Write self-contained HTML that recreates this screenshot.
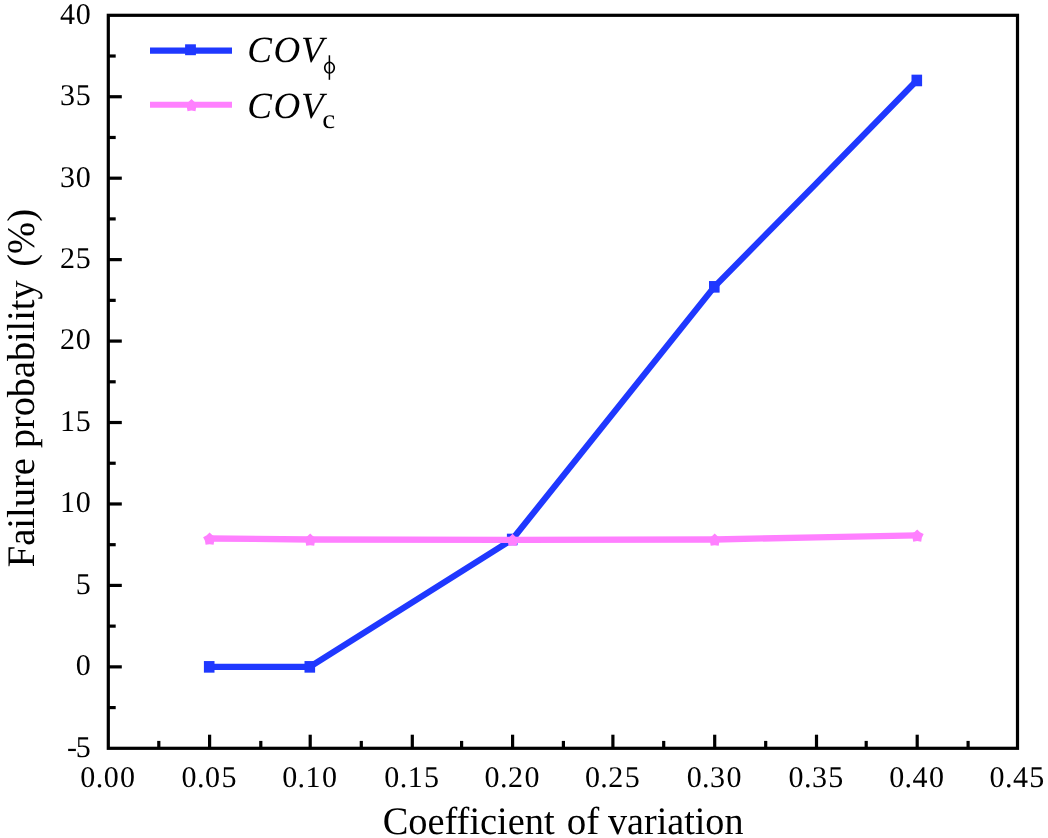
<!DOCTYPE html>
<html><head><meta charset="utf-8"><style>
html,body{margin:0;padding:0;background:#fff;width:1048px;height:838px;overflow:hidden;}
svg{display:block;font-family:"Liberation Serif",serif;will-change:transform;text-rendering:geometricPrecision;}
</style></head><body>
<svg width="1048" height="838" viewBox="0 0 1048 838" fill="#000">
<rect x="108.3" y="15.3" width="909.20" height="733.00" fill="none" stroke="#000" stroke-width="3.2"/>
<line x1="108.3" y1="707.58" x2="115.70" y2="707.58" stroke="#000" stroke-width="3.2"/>
<line x1="108.3" y1="666.86" x2="121.80" y2="666.86" stroke="#000" stroke-width="3.2"/>
<line x1="108.3" y1="626.13" x2="115.70" y2="626.13" stroke="#000" stroke-width="3.2"/>
<line x1="108.3" y1="585.41" x2="121.80" y2="585.41" stroke="#000" stroke-width="3.2"/>
<line x1="108.3" y1="544.69" x2="115.70" y2="544.69" stroke="#000" stroke-width="3.2"/>
<line x1="108.3" y1="503.97" x2="121.80" y2="503.97" stroke="#000" stroke-width="3.2"/>
<line x1="108.3" y1="463.24" x2="115.70" y2="463.24" stroke="#000" stroke-width="3.2"/>
<line x1="108.3" y1="422.52" x2="121.80" y2="422.52" stroke="#000" stroke-width="3.2"/>
<line x1="108.3" y1="381.80" x2="115.70" y2="381.80" stroke="#000" stroke-width="3.2"/>
<line x1="108.3" y1="341.08" x2="121.80" y2="341.08" stroke="#000" stroke-width="3.2"/>
<line x1="108.3" y1="300.36" x2="115.70" y2="300.36" stroke="#000" stroke-width="3.2"/>
<line x1="108.3" y1="259.63" x2="121.80" y2="259.63" stroke="#000" stroke-width="3.2"/>
<line x1="108.3" y1="218.91" x2="115.70" y2="218.91" stroke="#000" stroke-width="3.2"/>
<line x1="108.3" y1="178.19" x2="121.80" y2="178.19" stroke="#000" stroke-width="3.2"/>
<line x1="108.3" y1="137.47" x2="115.70" y2="137.47" stroke="#000" stroke-width="3.2"/>
<line x1="108.3" y1="96.74" x2="121.80" y2="96.74" stroke="#000" stroke-width="3.2"/>
<line x1="108.3" y1="56.02" x2="115.70" y2="56.02" stroke="#000" stroke-width="3.2"/>
<line x1="158.80" y1="748.3" x2="158.80" y2="740.90" stroke="#000" stroke-width="3.2"/>
<line x1="209.60" y1="748.3" x2="209.60" y2="734.70" stroke="#000" stroke-width="3.2"/>
<line x1="260.80" y1="748.3" x2="260.80" y2="740.90" stroke="#000" stroke-width="3.2"/>
<line x1="310.20" y1="748.3" x2="310.20" y2="734.70" stroke="#000" stroke-width="3.2"/>
<line x1="361.30" y1="748.3" x2="361.30" y2="740.90" stroke="#000" stroke-width="3.2"/>
<line x1="412.30" y1="748.3" x2="412.30" y2="734.70" stroke="#000" stroke-width="3.2"/>
<line x1="461.60" y1="748.3" x2="461.60" y2="740.90" stroke="#000" stroke-width="3.2"/>
<line x1="512.60" y1="748.3" x2="512.60" y2="734.70" stroke="#000" stroke-width="3.2"/>
<line x1="563.40" y1="748.3" x2="563.40" y2="740.90" stroke="#000" stroke-width="3.2"/>
<line x1="612.90" y1="748.3" x2="612.90" y2="734.70" stroke="#000" stroke-width="3.2"/>
<line x1="663.70" y1="748.3" x2="663.70" y2="740.90" stroke="#000" stroke-width="3.2"/>
<line x1="714.70" y1="748.3" x2="714.70" y2="734.70" stroke="#000" stroke-width="3.2"/>
<line x1="765.70" y1="748.3" x2="765.70" y2="740.90" stroke="#000" stroke-width="3.2"/>
<line x1="816.50" y1="748.3" x2="816.50" y2="734.70" stroke="#000" stroke-width="3.2"/>
<line x1="866.20" y1="748.3" x2="866.20" y2="740.90" stroke="#000" stroke-width="3.2"/>
<line x1="917.20" y1="748.3" x2="917.20" y2="734.70" stroke="#000" stroke-width="3.2"/>
<line x1="968.10" y1="748.3" x2="968.10" y2="740.90" stroke="#000" stroke-width="3.2"/>
<text x="67.00 75.80" y="756.70" font-size="30">-5</text>
<text x="75.80" y="675.26" font-size="30">0</text>
<text x="75.80" y="593.81" font-size="30">5</text>
<text x="59.90 75.80" y="512.37" font-size="30">10</text>
<text x="59.90 75.80" y="430.92" font-size="30">15</text>
<text x="59.90 75.80" y="349.48" font-size="30">20</text>
<text x="59.90 75.80" y="268.03" font-size="30">25</text>
<text x="59.90 75.80" y="186.59" font-size="30">30</text>
<text x="59.90 75.80" y="105.14" font-size="30">35</text>
<text x="59.90 75.80" y="23.70" font-size="30">40</text>
<text x="80.30 95.70 103.70 120.10" y="786.7" font-size="30">0.00</text>
<text x="181.60 197.00 205.00 221.40" y="786.7" font-size="30">0.05</text>
<text x="282.20 297.60 305.60 322.00" y="786.7" font-size="30">0.10</text>
<text x="384.30 399.70 407.70 424.10" y="786.7" font-size="30">0.15</text>
<text x="484.60 500.00 508.00 524.40" y="786.7" font-size="30">0.20</text>
<text x="584.90 600.30 608.30 624.70" y="786.7" font-size="30">0.25</text>
<text x="686.70 702.10 710.10 726.50" y="786.7" font-size="30">0.30</text>
<text x="788.50 803.90 811.90 828.30" y="786.7" font-size="30">0.35</text>
<text x="889.20 904.60 912.60 929.00" y="786.7" font-size="30">0.40</text>
<text x="989.50 1004.90 1012.90 1029.30" y="786.7" font-size="30">0.45</text>
<text x="382.63" y="833.6" font-size="39" textLength="172.09" lengthAdjust="spacingAndGlyphs">Coefficient</text>
<text x="566.8" y="833.6" font-size="39">of</text>
<text x="608.0" y="833.6" font-size="39" textLength="135.48" lengthAdjust="spacingAndGlyphs">variation</text>
<text transform="translate(33.7,567.31) rotate(-90)" font-size="39" textLength="109.25" lengthAdjust="spacingAndGlyphs">Failure</text>
<text transform="translate(33.7,448.0) rotate(-90)" font-size="39" textLength="167.46" lengthAdjust="spacingAndGlyphs">probability</text>
<text transform="translate(33.7,266.7) rotate(-90)" font-size="39" textLength="57.68" lengthAdjust="spacingAndGlyphs">(%)</text>
<polyline points="209.20,666.86 309.80,666.86 512.20,539.48 714.30,286.84 816.10,183.56 916.80,80.46" fill="none" stroke="#1f38ff" stroke-width="6.2" stroke-linejoin="round"/>
<rect x="203.90" y="661.06" width="10.6" height="11.6" fill="#1f38ff"/>
<rect x="304.50" y="661.06" width="10.6" height="11.6" fill="#1f38ff"/>
<rect x="506.90" y="533.68" width="10.6" height="11.6" fill="#1f38ff"/>
<rect x="709.00" y="281.04" width="10.6" height="11.6" fill="#1f38ff"/>
<rect x="911.50" y="74.66" width="10.6" height="11.6" fill="#1f38ff"/>
<polyline points="209.60,538.50 310.20,539.48 512.60,539.80 714.70,539.48 816.50,537.36 917.20,535.40" fill="none" stroke="#ff80ff" stroke-width="6.3" stroke-linejoin="round"/>
<path d="M209.60,532.50 L212.48,535.33 L216.07,537.20 L214.26,540.81 L213.60,544.80 L209.60,544.20 L205.60,544.80 L204.94,540.81 L203.13,537.20 L206.72,535.33 Z" fill="#ff80ff"/>
<path d="M310.20,533.48 L313.08,536.31 L316.67,538.18 L314.86,541.79 L314.20,545.78 L310.20,545.18 L306.20,545.78 L305.54,541.79 L303.73,538.18 L307.32,536.31 Z" fill="#ff80ff"/>
<path d="M512.60,533.80 L515.48,536.64 L519.07,538.50 L517.26,542.12 L516.60,546.10 L512.60,545.50 L508.60,546.10 L507.94,542.12 L506.13,538.50 L509.72,536.64 Z" fill="#ff80ff"/>
<path d="M714.70,533.48 L717.58,536.31 L721.17,538.18 L719.36,541.79 L718.70,545.78 L714.70,545.18 L710.70,545.78 L710.04,541.79 L708.23,538.18 L711.82,536.31 Z" fill="#ff80ff"/>
<path d="M917.20,529.40 L920.08,532.24 L923.67,534.10 L921.86,537.72 L921.20,541.71 L917.20,541.10 L913.20,541.71 L912.54,537.72 L910.73,534.10 L914.32,532.24 Z" fill="#ff80ff"/>
<line x1="150" y1="50.6" x2="232" y2="50.6" stroke="#1f38ff" stroke-width="6.3"/>
<rect x="185.1" y="44.3" width="10.8" height="10.9" fill="#1f38ff"/>
<line x1="150" y1="104.7" x2="232" y2="104.7" stroke="#ff80ff" stroke-width="6"/>
<path d="M191.50,98.90 L194.38,101.74 L197.97,103.60 L196.16,107.21 L195.50,111.20 L191.50,110.60 L187.50,111.20 L186.84,107.21 L185.03,103.60 L188.62,101.74 Z" fill="#ff80ff"/>
<text x="247.14 273.45 301.05" y="62.2" font-size="37" font-style="italic">COV</text>
<text x="247.14 273.45 301.05" y="118.2" font-size="37" font-style="italic">COV</text>
<text x="322.3" y="127.5" font-size="27" textLength="12.9" lengthAdjust="spacingAndGlyphs">c</text>
<path d="M329.5,61.6 a5.6,6.1 0 1,0 0.001,0 Z M329.5,63.0 a3.9,4.7 0 1,0 0.001,0 Z" fill="#000" fill-rule="evenodd"/>
<line x1="329.4" y1="55.3" x2="329.4" y2="79.8" stroke="#000" stroke-width="1.5"/>
</svg>
</body></html>
